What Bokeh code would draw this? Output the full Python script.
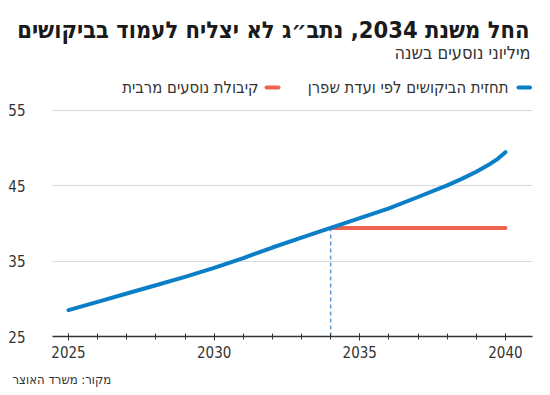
from bokeh.plotting import figure
from bokeh.layouts import column
from bokeh.models import (Label, FixedTicker, Range1d, Title, BoxAnnotation,
                          Span)
from bokeh.embed import file_html
from bokeh.resources import INLINE

# ---- data ----
years = [2025, 2026, 2027, 2028, 2029, 2030, 2031, 2032, 2033, 2034,
         2035, 2036, 2037, 2038, 2038.5, 2039, 2039.5, 2039.75, 2040]
demand = [28.5, 29.6, 30.7, 31.8, 32.9, 34.1, 35.4, 36.8, 38.1, 39.4,
          40.7, 42.0, 43.5, 45.05, 45.9, 46.85, 47.95, 48.6, 49.45]
cap_years = [2034, 2040]
capacity = [39.4, 39.4]
cross_year = 2034
x_ticks = [2025, 2030, 2035, 2040]
y_ticks = [25, 35, 45, 55]

title = "החל משנת 2034, נתב״ג לא יצליח לעמוד בביקושים"
subtitle = "מיליוני נוסעים בשנה"
legend_demand = "תחזית הביקושים לפי ועדת שפרן"
legend_cap = "קיבולת נוסעים מרבית"
source_txt = "מקור: משרד האוצר"

BLUE = "#0a7fc7"
RED = "#ec6350"
DASH = "#5f98c6"
FONT = "DejaVu Sans Condensed"

W, H = 550, 395
RULE_H = 8                            # thin strip holding the grey top rule
MAIN_H = H - RULE_H
FL, FR, FT, FB = 52, 532, 44, 337     # frame edges (page px)
Y_TOP = 25 + (FB - FT) * 30 / (FB - 110)   # 55 gridline at y=110

# ---- top rule strip ----
rule_fig = figure(width=W, height=RULE_H, output_backend="svg",
                  toolbar_location=None, x_axis_location=None,
                  y_axis_location=None, x_range=Range1d(0, 1),
                  y_range=Range1d(0, RULE_H), min_border=0)
rule_fig.outline_line_color = None
rule_fig.grid.visible = False
rule_fig.border_fill_color = "white"
rule_fig.background_fill_color = "white"
rule_fig.add_layout(Span(location=RULE_H - 5, dimension="width",
                         line_color="#9a9a9a", line_width=2))

# ---- main chart ----
p = figure(width=W, height=MAIN_H, output_backend="svg", toolbar_location=None,
           x_range=Range1d(2024.45, 2040.93), y_range=Range1d(25, Y_TOP),
           min_border_left=FL, min_border_right=W - FR,
           min_border_top=FT - RULE_H, min_border_bottom=H - FB)
p.outline_line_color = None
p.background_fill_color = "white"
p.border_fill_color = "white"

p.xgrid.grid_line_color = None
p.ygrid.ticker = FixedTicker(ticks=[35, 45, 55])
p.ygrid.grid_line_color = "#b5b5b5"
p.ygrid.grid_line_dash = "1 1"
p.ygrid.grid_line_width = 1

p.yaxis.ticker = FixedTicker(ticks=y_ticks)
p.yaxis.axis_line_color = None
p.yaxis.major_tick_line_color = None
p.yaxis.minor_tick_line_color = None
p.yaxis.major_tick_out = 0
p.yaxis.major_tick_in = 0
p.yaxis.major_label_standoff = 27
p.yaxis.major_label_text_font = FONT
p.yaxis.major_label_text_font_size = "15px"
p.yaxis.major_label_text_color = "#333333"

p.xaxis.ticker = FixedTicker(ticks=x_ticks, minor_ticks=list(range(2025, 2041)))
p.xaxis.axis_line_color = "#333333"
p.xaxis.axis_line_width = 1.5
p.xaxis.major_tick_line_color = "#333333"
p.xaxis.minor_tick_line_color = "#333333"
p.xaxis.major_tick_in = 3
p.xaxis.major_tick_out = 4
p.xaxis.minor_tick_in = 3
p.xaxis.minor_tick_out = 3
p.xaxis.major_label_standoff = 5
p.xaxis.major_label_text_font = FONT
p.xaxis.major_label_text_font_size = "15px"
p.xaxis.major_label_text_color = "#333333"

p.segment(x0=[cross_year], y0=[25], x1=[cross_year], y1=[capacity[0]],
          line_color=DASH, line_width=1.5, line_dash="4 3")
p.line(cap_years, capacity, line_color=RED, line_width=4, line_cap="round")
p.line(years, demand, line_color=BLUE, line_width=4, line_cap="round",
       line_join="round")

# ---- title above, source below ----
p.add_layout(Title(text=title, align="right", offset=3,
                   text_font=FONT, text_font_style="bold",
                   text_font_size="23.5px", text_color="#1a1a1a",
                   standoff=2), "above")
p.add_layout(Title(text=source_txt, align="left", offset=12 - FL,
                   text_font=FONT, text_font_style="normal",
                   text_font_size="13px", text_color="#333333",
                   standoff=18), "below")


# ---- subtitle and legend, inside the frame (screen units, frame-relative) ----
def sx(x_page):
    return x_page - FL


def sy(y_page):
    return FB - y_page


p.add_layout(Label(x=sx(530), y=sy(53), x_units="screen", y_units="screen",
                   text=subtitle, text_font=FONT, text_font_size="18px",
                   text_color="#333333", text_align="right",
                   text_baseline="middle"))

for x0, x1, col in [(516, 531.5, BLUE), (264, 280, RED)]:
    p.add_layout(BoxAnnotation(left=sx(x0), right=sx(x1), top=sy(86),
                               bottom=sy(90), left_units="screen",
                               right_units="screen", top_units="screen",
                               bottom_units="screen", fill_color=col,
                               fill_alpha=1, line_color=None, border_radius=2))
for x, txt in [(508, legend_demand), (258, legend_cap)]:
    p.add_layout(Label(x=sx(x), y=sy(88), x_units="screen", y_units="screen",
                       text=txt, text_font=FONT, text_font_size="16.5px",
                       text_color="#333333", text_align="right",
                       text_baseline="middle"))

layout = column(rule_fig, p, spacing=0)
open("out.html", "w").write(file_html(layout, INLINE))
